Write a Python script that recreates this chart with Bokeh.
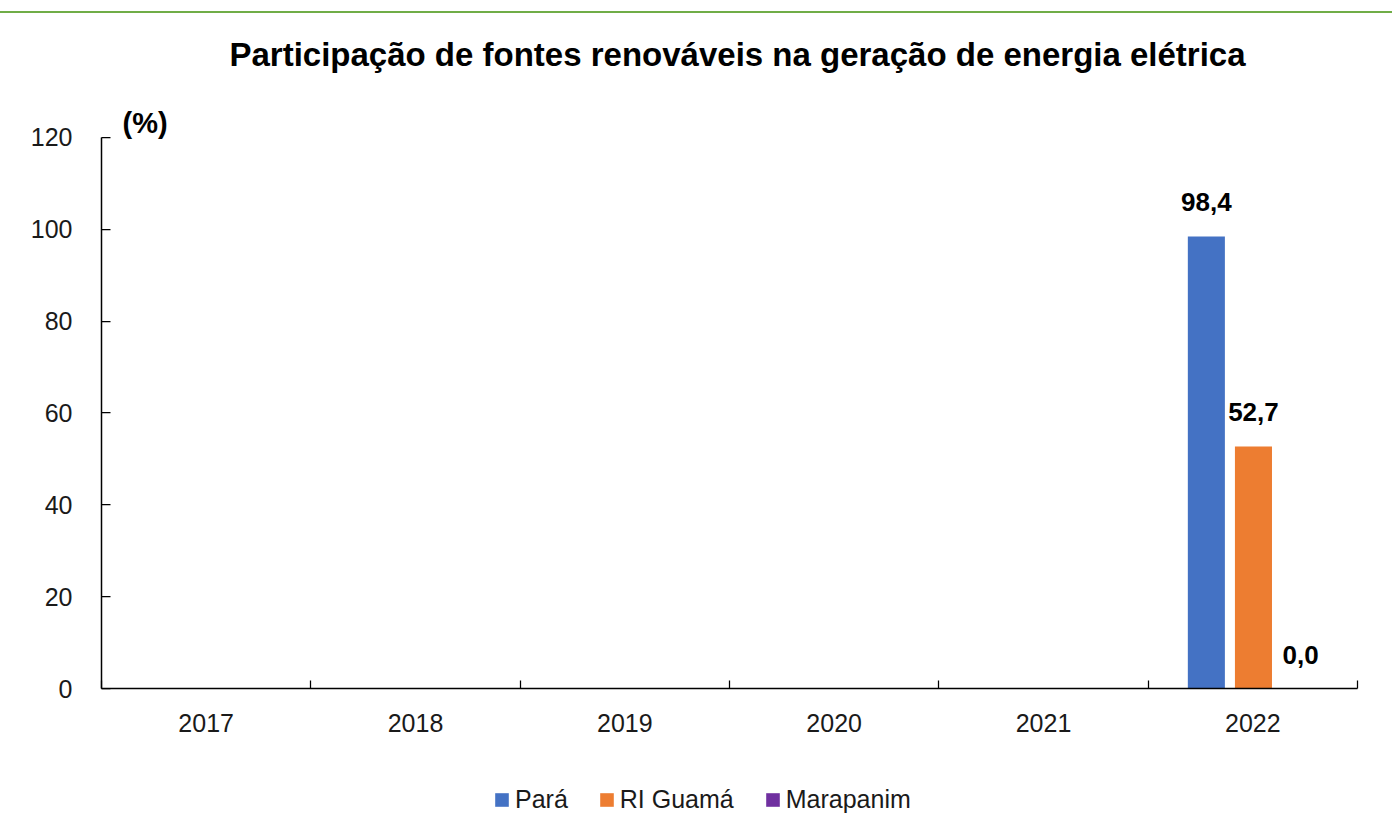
import math
import numpy as np
from bokeh.plotting import figure
from bokeh.models import (Range1d, FixedTicker, Legend, LegendItem, Label, Spacer,
                          ColumnDataSource)
from bokeh.layouts import column
from bokeh.embed import file_html
from bokeh.resources import INLINE
from bokeh.core.properties import value

# ---- data ----
years = ["2017", "2018", "2019", "2020", "2021", "2022"]
series_names = ["Pará", "RI Guamá", "Marapanim"]
para = [math.nan, math.nan, math.nan, math.nan, math.nan, 98.4]
ri_guama = [math.nan, math.nan, math.nan, math.nan, math.nan, 52.7]
marapanim = [math.nan, math.nan, math.nan, math.nan, math.nan, 0.0]
y_ticks = [0, 20, 40, 60, 80, 100, 120]
title_text = "Participação de fontes renováveis na geração de energia elétrica"
unit_text = "(%)"

colors = ["#4472C4", "#ED7D31", "#7030A0"]
offsets = [-0.222, 0.003, 0.228]
bar_w = 0.177
FONT = "Liberation Sans"
GREEN = "#70AD47"
W = 1392
FL, FR = 101, 1357   # frame left / right in page pixels (shared by all strips)

# ---- green rule (CSS-painted spacer) ----
rule = Spacer(width=W, height=2, styles={"background-color": GREEN})

# ---- header with title ----
HEAD_H = 87
head = figure(width=W, height=HEAD_H, output_backend="svg", toolbar_location=None,
              min_border=0, min_border_left=FL, min_border_right=W - FR,
              x_axis_location=None, y_axis_location=None,
              x_range=Range1d(FL, FR), y_range=Range1d(0, HEAD_H),
              outline_line_color=None)
head.grid.visible = False
head.add_layout(Label(x=737, y=46, text=title_text,
                      text_align="center", text_baseline="alphabetic",
                      text_font=FONT, text_font_style="bold", text_font_size="33px",
                      text_color="#000000"))

# ---- main chart ----
MAIN_H = 638
p = figure(width=W, height=MAIN_H, output_backend="svg", toolbar_location=None,
           title=None,
           x_range=Range1d(0, len(years)), y_range=Range1d(0, 128),
           min_border_left=FL, min_border_right=W - FR, min_border_top=0,
           min_border_bottom=50)
p.outline_line_color = None
p.xgrid.visible = False
p.ygrid.visible = False

centers = np.arange(len(years)) + 0.5
for vals, c, off in zip([para, ri_guama, marapanim], colors, offsets):
    src = ColumnDataSource(dict(
        x=centers + off, top=vals,
        lab=["" if math.isnan(v) else f"{v:.1f}".replace(".", ",") for v in vals]))
    p.vbar(x="x", top="top", bottom=0, width=bar_w, source=src,
           fill_color=c, line_color=None)
    p.text(x="x", y="top", text="lab", source=src, text_align="center",
           text_baseline="alphabetic", y_offset=-34,
           text_font=value(FONT), text_font_style="bold",
           text_font_size="26px", text_color="#000000")

p.add_layout(Label(x=0, y=120, x_offset=21, y_offset=14, text=unit_text,
                   text_font=FONT, text_font_style="bold", text_font_size="29px",
                   text_color="#000000", text_baseline="alphabetic"))

ax = p.xaxis[0]
ax.ticker = FixedTicker(ticks=list(centers), minor_ticks=list(range(len(years) + 1)))
ax.major_label_overrides = {float(c): y for c, y in zip(centers, years)}
ax.major_tick_line_color = None
ax.minor_tick_in = 8
ax.minor_tick_out = 0
ax.minor_tick_line_color = "#000000"
ax.minor_tick_line_width = 1.25
ax.axis_line_color = "#000000"
ax.axis_line_width = 1.5
ax.major_label_text_font = FONT
ax.major_label_text_font_size = "25px"
ax.major_label_text_color = "#1a1a1a"
ax.major_label_standoff = 19

ay = p.yaxis[0]
ay.ticker = FixedTicker(ticks=y_ticks)
ay.bounds = (0, 120)
ay.major_tick_in = 9
ay.major_tick_out = 0
ay.major_tick_line_color = "#000000"
ay.major_tick_line_width = 1.25
ay.minor_tick_line_color = None
ay.axis_line_color = "#000000"
ay.axis_line_width = 1.5
ay.major_label_text_font = FONT
ay.major_label_text_font_size = "25px"
ay.major_label_text_color = "#1a1a1a"
ay.major_label_standoff = 29

# ---- legend strip ----
LEG_H = 819 - 11 - 2 - HEAD_H - MAIN_H
leg = figure(width=W, height=LEG_H, output_backend="svg", toolbar_location=None,
             min_border=0, min_border_left=FL, min_border_right=W - FR,
             x_axis_location=None, y_axis_location=None,
             x_range=Range1d(0, 1), y_range=Range1d(0, 1), outline_line_color=None)
leg.grid.visible = False
# zero-size proxies that only supply the legend swatches
leg_renderers = [leg.vbar(x=[0], top=[0], bottom=0, width=0, fill_color=c, line_color=None)
                 for c in colors]
legend = Legend(items=[LegendItem(label=n, renderers=[r])
                       for n, r in zip(series_names, leg_renderers)],
                orientation="horizontal", location=(493 - FL, 5),
                glyph_width=17, glyph_height=17, label_standoff=5, spacing=30,
                padding=0, margin=0, border_line_color=None,
                background_fill_alpha=0,
                label_text_font=FONT, label_text_font_size="25px",
                label_text_color="#1a1a1a")
leg.add_layout(legend, "center")

layout = column(Spacer(width=W, height=11), rule, head, p, leg, spacing=0)
open("out.html", "w").write(file_html(layout, INLINE))
